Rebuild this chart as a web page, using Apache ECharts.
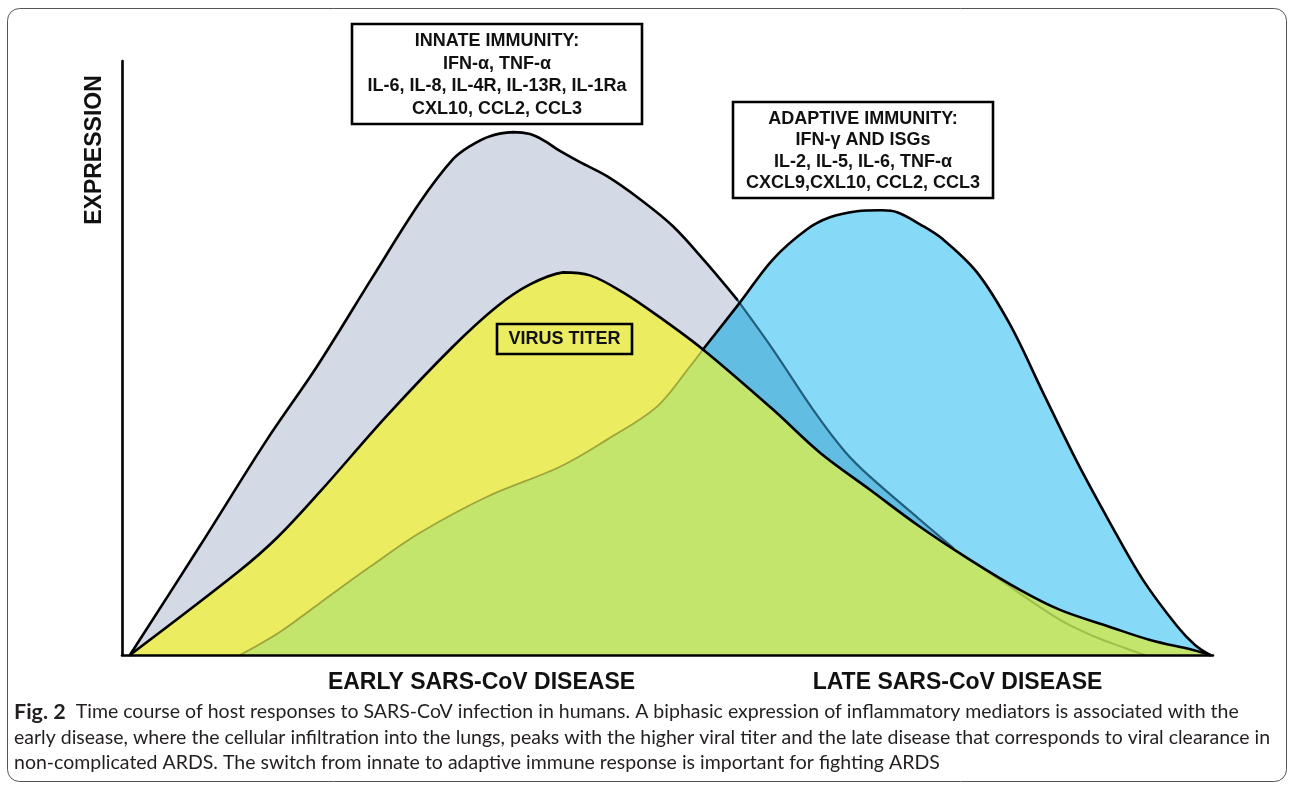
<!DOCTYPE html>
<html>
<head>
<meta charset="utf-8">
<script src="https://cdn.jsdelivr.net/npm/echarts@6/dist/echarts.min.js"></script>
<style>
html,body{margin:0;padding:0;background:#ffffff;}
#chart{width:1292px;height:785px;}
</style>
</head>
<body>
<div id="chart"></div>
<script>
// ---- data (x: time 0-100, y: expression 0-100) ----
const innatePoints = [[0.73,0],[7.15,18.38],[13.29,36.26],[17.87,48.57],[23.01,63.74],[27.31,76.22],[30.34,83.47],[31.90,85.67],[33.73,87.35],[35.84,88.03],[37.40,87.69],[38.77,86.51],[39.87,85.16],[41.98,82.97],[44.45,80.61],[47.48,76.73],[50.50,72.18],[53.44,66.27],[56.37,59.87],[59.67,51.43],[63.34,41.32],[66.27,34.23],[68.56,30.02],[73.14,22.77],[76.17,18.04],[80.75,12.31],[85.98,5.90],[89.00,3.20],[91.93,1.18],[93.77,0]];
const virusPoints = [[0.73,0],[10.54,13.83],[14.21,19.73],[18.15,27.49],[24.29,40.30],[30.34,51.94],[34.37,58.68],[37.40,62.39],[40.42,64.42],[42.90,63.91],[45.92,61.05],[49.31,56.83],[53.25,51.43],[59.67,41.32],[63.98,34.06],[68.56,27.82],[73.14,21.59],[77.73,16.02],[82.31,10.96],[85.98,7.59],[90.56,4.72],[94.23,2.53],[98.17,0.84],[99.73,0]];
const adaptivePoints = [[10.82,0],[14.48,3.88],[18.15,8.77],[22.73,14.84],[27.31,20.57],[33.46,26.64],[40.15,31.70],[44.45,36.26],[49.04,41.82],[52.06,48.57],[53.25,51.43],[56.65,59.36],[59.67,66.61],[62.79,71.67],[64.89,73.69],[67.37,74.70],[69.48,74.87],[71.04,74.54],[73.14,72.51],[75.25,69.98],[78.37,64.42],[81.39,55.65],[84.42,44.18],[87.53,32.55],[90.56,22.26],[93.58,12.65],[96.70,4.89],[98.35,1.69],[99.73,0]];

const stageLabels = ['EARLY SARS-CoV DISEASE', 'LATE SARS-CoV DISEASE'];
const yAxisTitle = 'EXPRESSION';
const innateBoxLines = ['INNATE IMMUNITY:', 'IFN-\u03b1, TNF-\u03b1', 'IL-6, IL-8, IL-4R, IL-13R, IL-1Ra', 'CXL10, CCL2, CCL3'];
const adaptiveBoxLines = ['ADAPTIVE IMMUNITY:', 'IFN-\u03b3 AND ISGs', 'IL-2, IL-5, IL-6, TNF-\u03b1', 'CXCL9,CXL10, CCL2, CCL3'];
const virusLabel = 'VIRUS TITER';
const captionBold = 'Fig. 2';
const captionLines = [
  'Time course of host responses to SARS-CoV infection in humans. A biphasic expression of inflammatory mediators is associated with the',
  'early disease, where the cellular infiltration into the lungs, peaks with the higher viral titer and the late disease that corresponds to viral clearance in',
  'non-complicated ARDS. The switch from innate to adaptive immune response is important for fighting ARDS'
];

// split indices (where one outline passes under another area)
const adaptiveUnderVirusEnd = 10;
const innateEnterAdaptive = 18;
const innateUnderVirus = 24;

// ---- styling ----
const SMOOTH = 0.35;
const BBOX = [[Infinity, Infinity], [-Infinity, -Infinity]];
const C = {
  gray: '#d3dae5', yellow: '#ebec60', green: '#c3e56b', blue: '#86d9f7', blueDark: '#62bde3',
  teal: '#215f7c', olive: '#9ea53a', tailGreen: '#9ebf4e', ink: '#000000'
};
const blendByName = {};

const chart = echarts.init(document.getElementById('chart'), null, {renderer: 'canvas'});

function polygonSeries(points, fill, blend, z) {
  const nm = 'fill_' + z;
  blendByName[nm] = blend;
  return {
    type: 'custom', coordinateSystem: 'cartesian2d', data: [[0, 0]], encode: {x: 0, y: 1},
    silent: true, animation: false, z: z,
    renderItem: function (params, api) {
      const pts = points.map(p => api.coord(p));
      return {
        type: 'polygon', name: nm,
        shape: {points: pts, smooth: SMOOTH, smoothConstraint: BBOX},
        style: {fill: fill, stroke: null, blend: blend}
      };
    }
  };
}

function lineEl(api, pts, color, width) {
  return {
    type: 'polyline',
    shape: {points: pts.map(p => api.coord(p)), smooth: SMOOTH, smoothConstraint: BBOX},
    style: {fill: null, stroke: color, lineWidth: width, lineJoin: 'round', lineCap: 'round'}
  };
}

const strokeSeries = {
  type: 'custom', coordinateSystem: 'cartesian2d', data: [[0, 0]], encode: {x: 0, y: 1},
  silent: true, animation: false, z: 6,
  renderItem: function (params, api) {
    return {
      type: 'group',
      children: [
        lineEl(api, adaptivePoints.slice(0, adaptiveUnderVirusEnd + 1), C.olive, 1.8),
        lineEl(api, innatePoints.slice(innateUnderVirus), C.tailGreen, 2),
        lineEl(api, innatePoints.slice(innateEnterAdaptive, innateUnderVirus + 1), C.teal, 2.2),
        lineEl(api, adaptivePoints.slice(adaptiveUnderVirusEnd), C.ink, 2.6),
        lineEl(api, innatePoints.slice(0, innateEnterAdaptive + 1), C.ink, 2.6),
        lineEl(api, virusPoints, C.ink, 2.6)
      ]
    };
  }
};

// caption font fitting (layout only)
const capFont = 'Lato';
function fitSize(text, target, weight) {
  const cv = document.createElement('canvas').getContext('2d');
  cv.font = (weight || 'normal') + ' 100px ' + capFont;
  return 100 * target / cv.measureText(text).width;
}
const capSize = Math.round(fitSize(captionLines[1], 1258) * 10) / 10;

const boxTextStyle = {fontFamily: 'Liberation Sans', fontWeight: 'bold', fontSize: 18, fill: '#111', align: 'center', verticalAlign: 'middle', lineHeight: 22.5};

const option = {
  backgroundColor: 'transparent',
  animation: false,
  grid: {left: 122, right: 79, top: 61, bottom: 130, containLabel: false},
  xAxis: {type: 'value', min: 0, max: 100, z: 10,
    axisLine: {show: true, onZero: true, lineStyle: {color: '#000', width: 2.6}},
    axisTick: {show: false}, axisLabel: {show: false}, splitLine: {show: false}},
  yAxis: {type: 'value', min: 0, max: 100, z: 10,
    axisLine: {show: true, lineStyle: {color: '#000', width: 2.6}},
    axisTick: {show: false}, axisLabel: {show: false}, splitLine: {show: false}},
  series: [
    polygonSeries(adaptivePoints, C.blue, 'source-over', 1),
    polygonSeries(innatePoints, C.blueDark, 'source-atop', 2),
    polygonSeries(virusPoints, C.green, 'source-atop', 3),
    polygonSeries(virusPoints, C.yellow, 'destination-over', 4),
    polygonSeries(innatePoints, C.gray, 'destination-over', 5),
    strokeSeries
  ],
  graphic: {elements: [
    {type: 'rect', z: 100, silent: true, shape: {x: 7.5, y: 8.5, width: 1279, height: 773, r: 12},
      style: {fill: null, stroke: '#555', lineWidth: 1}},
    {type: 'rect', z: 100, silent: true, shape: {x: 352, y: 24, width: 290, height: 100},
      style: {fill: '#fff', stroke: '#000', lineWidth: 2.6}},
    {type: 'text', z: 101, silent: true, x: 497, y: 75, style: Object.assign({text: innateBoxLines.join('\n')}, boxTextStyle)},
    {type: 'rect', z: 100, silent: true, shape: {x: 733, y: 102, width: 260, height: 96},
      style: {fill: '#fff', stroke: '#000', lineWidth: 2.6}},
    {type: 'text', z: 101, silent: true, x: 863, y: 151, style: Object.assign({text: adaptiveBoxLines.join('\n')}, boxTextStyle, {lineHeight: 21.5})},
    {type: 'rect', z: 100, silent: true, shape: {x: 497, y: 324, width: 135, height: 30},
      style: {fill: null, stroke: '#000', lineWidth: 2.6}},
    {type: 'text', z: 101, silent: true, x: 564.5, y: 339.5, style: Object.assign({text: virusLabel}, boxTextStyle)},
    {type: 'text', z: 101, silent: true, x: 95, y: 150, rotation: Math.PI / 2,
      style: {text: yAxisTitle, fontFamily: 'Liberation Sans', fontWeight: 'bold', fontSize: 23, fill: '#111', align: 'center', verticalAlign: 'middle'}},
    {type: 'text', z: 101, silent: true, x: 481.5, y: 683,
      style: {text: stageLabels[0], fontFamily: 'Liberation Sans', fontWeight: 'bold', fontSize: 23, fill: '#111', align: 'center', verticalAlign: 'middle'}},
    {type: 'text', z: 101, silent: true, x: 957.5, y: 683,
      style: {text: stageLabels[1], fontFamily: 'Liberation Sans', fontWeight: 'bold', fontSize: 23, fill: '#111', align: 'center', verticalAlign: 'middle'}},
    {type: 'text', z: 101, silent: true, x: 14, y: 712,
      style: {text: '{b|' + captionBold + '}  ' + captionLines[0], fontFamily: capFont, fontSize: capSize, fill: '#231f20', align: 'left', verticalAlign: 'middle',
        rich: {b: {fontFamily: capFont, fontWeight: 'bold', fontSize: capSize + 2, fill: '#231f20'}}}},
    {type: 'text', z: 101, silent: true, x: 14, y: 738,
      style: {text: captionLines[1], fontFamily: capFont, fontSize: capSize, fill: '#231f20', align: 'left', verticalAlign: 'middle'}},
    {type: 'text', z: 101, silent: true, x: 14, y: 763,
      style: {text: captionLines[2], fontFamily: capFont, fontSize: capSize, fill: '#231f20', align: 'left', verticalAlign: 'middle'}}
  ]}
};
chart.setOption(option);

// apply canvas compositing to the area fills so overlaps get their own colours
function applyBlends() {
  const zr = chart.getZr();
  zr.storage.getDisplayList(true).forEach(function (el) {
    let e = el, b;
    while (e && b === undefined) { b = blendByName[e.name]; e = e.parent; }
    if (b !== undefined) { el.style.blend = b; el.markRedraw(); }
  });
  zr.refreshImmediately();
}
applyBlends();
chart.on('finished', function () {
  const zr = chart.getZr();
  const list = zr.storage.getDisplayList(true);
  const needs = list.some(el => blendByName[el.name] !== undefined && el.style.blend !== blendByName[el.name]);
  if (needs) applyBlends();
});
</script>
</body>
</html>
